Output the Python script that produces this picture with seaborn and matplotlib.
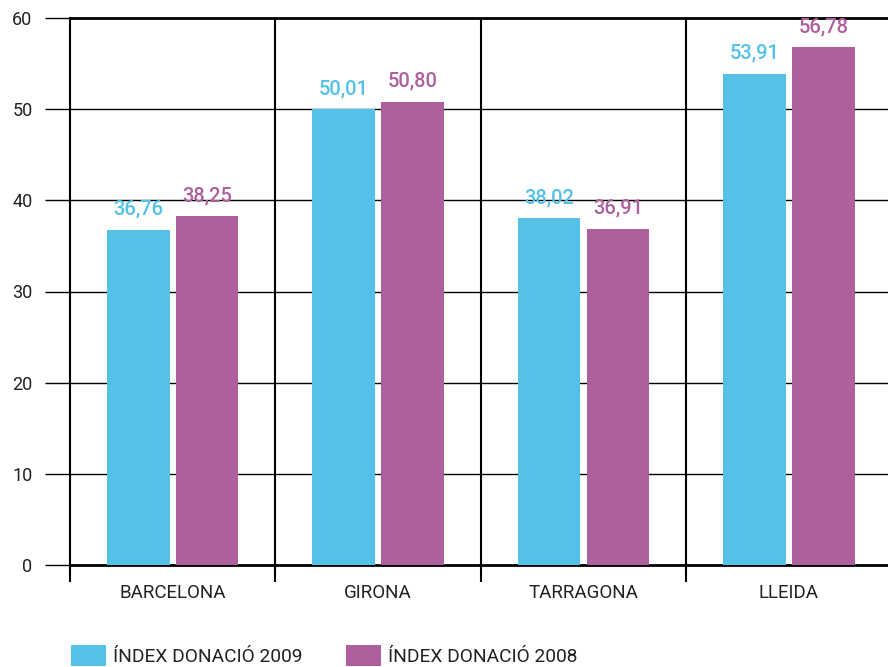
import matplotlib
matplotlib.use("Agg")
import matplotlib.pyplot as plt
from matplotlib.patches import Patch
import seaborn as sns
import pandas as pd

provinces = ["BARCELONA", "GIRONA", "TARRAGONA", "LLEIDA"]
series_names = ["ÍNDEX DONACIÓ 2009", "ÍNDEX DONACIÓ 2008"]
values_2009 = [36.76, 50.01, 38.02, 53.91]
values_2008 = [38.25, 50.80, 36.91, 56.78]
y_ticks = [0, 10, 20, 30, 40, 50, 60]

colors = ["#54C2E8", "#AD5F9E"]

sns.set_theme(style="white")
plt.rcParams["font.family"] = ["Roboto", "DejaVu Sans"]

df = pd.DataFrame({
    "prov": provinces * 2,
    "val": values_2009 + values_2008,
    "serie": [series_names[0]] * 4 + [series_names[1]] * 4,
})

fig = plt.figure(figsize=(8.88, 6.67), dpi=100)
ax = fig.add_axes([70 / 888, 102 / 667, 818 / 888, 547 / 667])

sns.barplot(data=df, x="prov", y="val", hue="serie", palette=colors,
            width=0.67, gap=0.09, linewidth=0, saturation=1, ax=ax, zorder=3)
ax.get_legend().remove()

ax.set_xlim(-0.5 + 0.012, 3.5 - 6 / 206 + 0.012)
ax.set_ylim(0, 60)
ax.set_xlabel("")
ax.set_ylabel("")

# Value labels
for cont, vals, col in zip(ax.containers, [values_2009, values_2008], colors):
    ax.bar_label(cont, labels=[f"{v:.2f}".replace(".", ",") for v in vals],
                 padding=8, color=col, fontsize=14.5, fontweight="medium", zorder=5)

# Spines
ax.spines["right"].set_visible(False)
ax.spines["top"].set_linewidth(2)
ax.spines["top"].set_color("black")
ax.spines["bottom"].set_linewidth(2)
ax.spines["bottom"].set_color("black")
ax.spines["left"].set_linewidth(1.5)
ax.spines["left"].set_color("black")

# Grid lines
for y in y_ticks[1:-1]:
    ax.axhline(y, color="black", lw=1, zorder=1)
for x in [0.5, 1.5, 2.5]:
    ax.axvline(x, color="black", lw=1.5, zorder=1)

# Y ticks
ax.set_yticks(y_ticks)
ax.set_yticklabels([str(t) for t in y_ticks], fontsize=13, color="#222222")
ax.tick_params(axis="y", which="major", left=True, length=18, width=1, color="black", pad=9)

# X ticks: labels at centres, tick marks at boundaries
ax.set_xticks(range(4))
ax.set_xticklabels(provinces, fontsize=13.5, color="#222222")
ax.tick_params(axis="x", which="major", bottom=True, length=0, pad=14)
ax.set_xticks([-0.5, 0.5, 1.5, 2.5], minor=True)
ax.tick_params(axis="x", which="minor", bottom=True, length=12, width=1.5, color="black")

handles = [Patch(facecolor=c, edgecolor="none") for c in colors]
fig.legend(handles, series_names, loc="upper left", bbox_to_anchor=(71 / 888, 1 - 645 / 667),
           ncol=2, frameon=False, borderpad=0, handlelength=1.8, handleheight=1.3,
           handletextpad=0.38, columnspacing=2.3, borderaxespad=0, fontsize=13.8,
           labelcolor="#222222")

fig.savefig("out.png", dpi=100)
